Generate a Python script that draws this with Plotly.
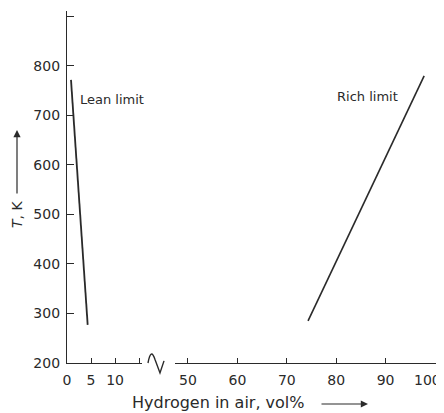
import plotly.graph_objects as go

# Data
lean_x = [0.83, 4.3]
lean_y = [772, 277]
rich_x = [74.3, 97.8]
rich_y = [285, 780]

y_ticks = [200, 300, 400, 500, 600, 700, 800, 900]
y_ticktext = ["200", "300", "400", "500", "600", "700", "800", ""]
x_left_ticks = [0, 5, 10, 15]
x_left_text = ["0", "5", "10", ""]
x_right_ticks = [50, 60, 70, 80, 90, 100]
x_right_text = ["50", "60", "70", "80", "90", ""]
x_end_label = "100"

FONT = "DejaVu Sans"
INK = "#2a2a2a"

fig = go.Figure()
fig.add_trace(go.Scatter(x=lean_x, y=lean_y, mode="lines", xaxis="x", yaxis="y",
                         line=dict(color=INK, width=1.8), showlegend=False))
fig.add_trace(go.Scatter(x=rich_x, y=rich_y, mode="lines", xaxis="x2", yaxis="y",
                         line=dict(color=INK, width=1.6), showlegend=False))

axis_common = dict(showline=True, linecolor=INK, linewidth=1.2, ticks="inside",
                   tickcolor=INK, tickwidth=1.2, showgrid=False, zeroline=False,
                   automargin=False,
                   tickfont=dict(family=FONT, size=14, color=INK), fixedrange=True)

fig.update_layout(
    width=436, height=405,
    margin=dict(l=59, r=8, t=3, b=50),
    paper_bgcolor="white", plot_bgcolor="white",
    xaxis=dict(domain=[0, 0.2033], range=[0, 15.6], anchor="y",
               tickmode="array", tickvals=x_left_ticks, ticktext=x_left_text,
               ticklen=5, ticklabelstandoff=4, **axis_common),
    xaxis2=dict(domain=[0.2927, 1], range=[47.37, 100.2], anchor="y",
                tickmode="array", tickvals=x_right_ticks, ticktext=x_right_text,
                ticklen=5, ticklabelstandoff=4, **axis_common),
    yaxis=dict(range=[200, 911], anchor="x", tickmode="array",
               tickvals=y_ticks, ticktext=y_ticktext, ticklen=7,
               ticklabelstandoff=3, **axis_common),
    font=dict(family=FONT, color=INK),
)

# End tick label of the x axis (sits just left of the figure edge, as in the original)
fig.add_annotation(xref="paper", yref="paper", x=1.019, y=-0.0483, text=x_end_label,
                   showarrow=False, xanchor="right", yanchor="middle",
                   font=dict(family=FONT, size=14, color=INK))

# Series labels
fig.add_annotation(x=0.0298, y=0.75, xref="paper", yref="paper", text="Lean limit",
                   showarrow=False, xanchor="left", yanchor="middle",
                   font=dict(family=FONT, size=13, color=INK))
fig.add_annotation(x=0.9024, y=0.7557, xref="paper", yref="paper", text="Rich limit",
                   showarrow=False, xanchor="right", yanchor="middle",
                   font=dict(family=FONT, size=13, color=INK))

# Axis titles
fig.add_annotation(xref="paper", yref="paper", x=-0.1355, y=0.4205, text="<i>T</i>, K",
                   textangle=-90, showarrow=False, xanchor="center", yanchor="middle",
                   font=dict(family=FONT, size=14, color=INK))
fig.add_annotation(xref="paper", yref="paper", x=-0.1355, y=0.662, ax=0, ay=65,
                   axref="pixel", ayref="pixel", text="", showarrow=True,
                   arrowhead=2, arrowsize=1.2, arrowwidth=1.2, arrowcolor=INK)
fig.add_annotation(xref="paper", yref="paper", x=0.409, y=-0.1136, text="Hydrogen in air, vol%",
                   showarrow=False, xanchor="center", yanchor="middle",
                   font=dict(family=FONT, size=16, color=INK))
fig.add_annotation(xref="paper", yref="paper", x=0.8157, y=-0.1165, ax=-48, ay=0,
                   axref="pixel", ayref="pixel", text="", showarrow=True,
                   arrowhead=2, arrowsize=1.2, arrowwidth=1.2, arrowcolor=INK)

# Axis break symbol
fig.add_shape(type="path", xref="paper", yref="paper",
              path="M 0.2195,0 Q 0.2276,0.045 0.2385,0.01 L 0.252,-0.0284 L 0.2629,0.006",
              line=dict(color=INK, width=1.4))

fig.write_html("out.html")
